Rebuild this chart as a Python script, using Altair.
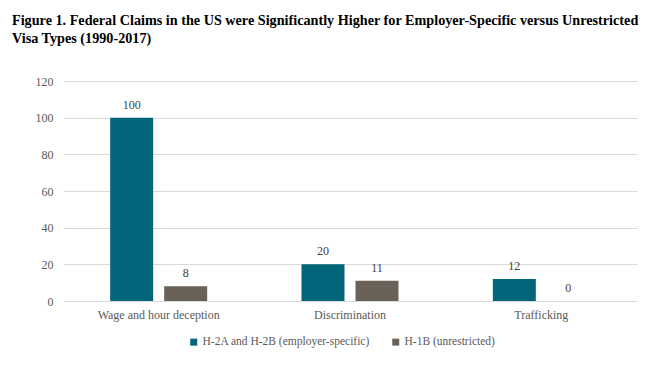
import altair as alt
import pandas as pd

categories = ["Wage and hour deception", "Discrimination", "Trafficking"]
series = ["H-2A and H-2B (employer-specific)", "H-1B (unrestricted)"]
h2_values = [100, 20, 12]
h1b_values = [8, 11, 0]
colors = ["#03657A", "#6A6158"]

rows = []
for c, a, b in zip(categories, h2_values, h1b_values):
    rows.append({"cat": c, "series": series[0], "value": a})
    rows.append({"cat": c, "series": series[1], "value": b})
df = pd.DataFrame(rows)

FONT = "Liberation Serif"

x = alt.X("cat:N", sort=categories, title=None,
          scale=alt.Scale(paddingInner=0.493, paddingOuter=0.2465),
          axis=alt.Axis(labelAngle=0, labelFont=FONT, labelFontSize=12, labelColor="#595959",
                        ticks=False, domain=False, labelPadding=8))
xoff = alt.XOffset("series:N", sort=series, scale=alt.Scale(paddingInner=0.204, paddingOuter=0))
y = alt.Y("value:Q", title=None,
          scale=alt.Scale(domain=[0, 120]),
          axis=alt.Axis(values=[0, 20, 40, 60, 80, 100, 120], labelFont=FONT, labelFontSize=12,
                        labelColor="#595959", ticks=False, domain=False, labelPadding=10,
                        gridColor="#D9D9D9", gridWidth=1))

base = alt.Chart(df)
bars = base.mark_bar().encode(
    x=x, xOffset=xoff, y=y,
    color=alt.Color("series:N", sort=series, scale=alt.Scale(domain=series, range=colors),
                    legend=alt.Legend(title=None, orient="none", direction="horizontal",
                                      legendX=125, legendY=255, symbolType="square", symbolSize=49,
                                      labelFont=FONT, labelFontSize=11.5, labelColor="#595959",
                                      labelLimit=400, columnPadding=20, labelOffset=3,
                                      symbolStrokeWidth=0)),
)
labels = base.mark_text(dy=-13, font=FONT, fontSize=12, color="#404040", baseline="middle").encode(
    x=x, xOffset=xoff, y=y, text="value:Q",
)

chart = (bars + labels).properties(
    width=574, height=220,
    autosize=alt.AutoSizeParams(type="none"),
    padding={"left": 55, "top": 73, "right": 25, "bottom": 76},
    title=alt.TitleParams(
        text=["Figure 1. Federal Claims in the US were Significantly Higher for Employer-Specific versus Unrestricted",
              "Visa Types (1990-2017)"],
        anchor="start", frame="group", dx=-51, offset=29, font=FONT, fontSize=14.2,
        fontWeight="bold", color="#000000", lineHeight=18),
).configure(font=FONT).configure_view(stroke=None)

chart.save("out.html", embed_options={"renderer": "svg", "actions": False})
